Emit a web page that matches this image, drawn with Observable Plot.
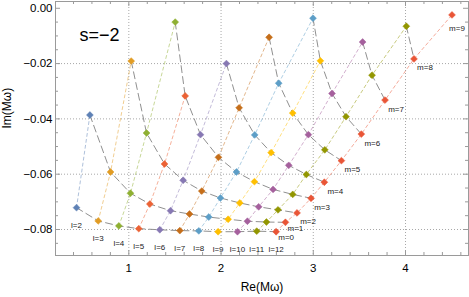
<!DOCTYPE html>
<html><head><meta charset="utf-8">
<script src="https://cdn.jsdelivr.net/npm/d3@7"></script>
<script src="https://cdn.jsdelivr.net/npm/@observablehq/plot@0.6"></script>
<style>body{margin:0;background:#fff} svg{display:block}</style>
</head><body><div id="chart"></div>
<script>
// l values (one colored series each); index m = 0,1,2,...
const ls = [2, 3, 4, 5, 6, 7, 8, 9, 10, 11, 12];
const reByL = [
  [0.433, 0.578],
  [0.668, 0.802, 1.026],
  [0.892, 1.018, 1.192, 1.503],
  [1.108, 1.228, 1.387, 1.611],
  [1.336, 1.452, 1.589, 1.777, 2.058],
  [1.553, 1.658, 1.791, 1.972, 2.196, 2.521],
  [1.759, 1.867, 1.993, 2.167, 2.365, 2.625, 2.997],
  [1.968, 2.077, 2.203, 2.362, 2.543, 2.777, 3.077],
  [2.178, 2.286, 2.408, 2.564, 2.734, 2.947, 3.203, 3.535],
  [2.387, 2.492, 2.618, 2.777, 2.925, 3.125, 3.355, 3.637, 4.009],
  [2.597, 2.698, 2.824, 2.976, 3.120, 3.305, 3.521, 3.778, 4.092, 4.504]
];
const imByL = [
  [-0.0721, -0.0386],
  [-0.0769, -0.0592, -0.0191],
  [-0.0787, -0.0669, -0.0451, -0.0050],
  [-0.0797, -0.0708, -0.0563, -0.0317],
  [-0.0801, -0.0732, -0.0622, -0.0457, -0.0200],
  [-0.0804, -0.0744, -0.0661, -0.0539, -0.0360, -0.0105],
  [-0.0805, -0.0755, -0.0686, -0.0592, -0.0458, -0.0271, -0.0036],
  [-0.0808, -0.0763, -0.0704, -0.0627, -0.0522, -0.0379, -0.0190],
  [-0.0808, -0.0770, -0.0718, -0.0655, -0.0568, -0.0457, -0.0308, -0.0122],
  [-0.0806, -0.0773, -0.0729, -0.0673, -0.0601, -0.0512, -0.0392, -0.0242, -0.0065],
  [-0.0808, -0.0774, -0.0740, -0.0687, -0.0629, -0.0551, -0.0455, -0.0332, -0.0183, -0.0024]
];
const palette = ["#5E81B5", "#E19C24", "#8FB032", "#EB6235", "#8778B3", "#C56E1A",
                 "#5D9EC7", "#FFBF00", "#A5609D", "#929600", "#E95536"];
const xMajor = [1, 2, 3, 4];
const xMinor = [0.4, 0.6, 0.8, 1.2, 1.4, 1.6, 1.8, 2.2, 2.4, 2.6, 2.8, 3.2, 3.4, 3.6, 3.8, 4.2, 4.4, 4.6];
const yMajor = [0, -0.02, -0.04, -0.06, -0.08];
const yGrid = [-0.02, -0.04, -0.06, -0.08];
const yMinor = [-0.005, -0.01, -0.015, -0.025, -0.03, -0.035, -0.045, -0.05, -0.055, -0.065, -0.07, -0.075, -0.085];
const title = "s=\u22122";
const xLabel = "Re(M\u03c9)";
const yLabel = "Im(M\u03c9)";

const rows = [];
ls.forEach((l, i) => reByL[i].forEach((re, m) => rows.push({l, m, re, im: imByL[i][m]})));
const lastL = ls[ls.length - 1];
const lastRow = rows.filter(d => d.l === lastL);
const topM = lastRow.length - 1;

const W = 469, Hh = 297, mL = 55, mR = 1, mT = 1, mB = 42;
const FW = W - mL - mR, FH = Hh - mT - mB;
const frameC = "#9a9a9a";
const font = "'Liberation Sans', Arial, Helvetica, sans-serif";
const lblStyle = {x: "re", y: "im", text: d => "m=" + d.m, fontSize: 8, fill: "#222"};

const chart = Plot.plot({
  width: W, height: Hh,
  marginLeft: mL, marginRight: mR, marginTop: mT, marginBottom: mB,
  style: {fontFamily: font, background: "#fff", color: "#000"},
  x: {domain: [0.205, 4.683]},
  y: {domain: [-0.0894, 0.00245]},
  color: {type: "ordinal", domain: ls, range: palette},
  marks: [
    Plot.ruleX(xMajor, {stroke: "#a8a8a8", strokeDasharray: "1,2", strokeWidth: 1}),
    Plot.ruleY(yGrid, {stroke: "#a8a8a8", strokeDasharray: "1,2", strokeWidth: 1}),
    Plot.line(rows, {x: "re", y: "im", z: "l", stroke: "l", strokeDasharray: "3,3", strokeOpacity: 0.5, strokeWidth: 1}),
    Plot.line(rows, {x: "re", y: "im", z: "m", stroke: "#909090", strokeDasharray: "7,4", strokeWidth: 1}),
    Plot.dot(rows, {x: "re", y: "im", fill: "l", symbol: "diamond2", r: 3.1, stroke: "l", strokeWidth: 0.5}),
    Plot.text(rows.filter(d => d.m === 0), {x: "re", y: "im", text: d => "l=" + d.l, dy: 18, fontSize: 8, fill: "#222"}),
    Plot.text(lastRow.filter(d => d.m <= 1), {...lblStyle, dx: 10, dy: 6}),
    Plot.text(lastRow.filter(d => d.m > 1 && d.m < topM), {...lblStyle, dx: 11, dy: 9}),
    Plot.text(lastRow.filter(d => d.m === topM), {...lblStyle, dx: 5, dy: 14}),
    // frame ticks (inward) on all sides
    Plot.ruleX(xMajor, {insetTop: FH - 5, stroke: frameC}),
    Plot.ruleX(xMajor, {insetBottom: FH - 5, stroke: frameC}),
    Plot.ruleX(xMinor, {insetTop: FH - 3, stroke: frameC}),
    Plot.ruleX(xMinor, {insetBottom: FH - 3, stroke: frameC}),
    Plot.ruleY(yMajor, {insetRight: FW - 5, stroke: frameC}),
    Plot.ruleY(yMajor, {insetLeft: FW - 5, stroke: frameC}),
    Plot.ruleY(yMinor, {insetRight: FW - 3, stroke: frameC}),
    Plot.ruleY(yMinor, {insetLeft: FW - 3, stroke: frameC}),
    Plot.frame({stroke: frameC}),
    Plot.axisX(xMajor, {tickSize: 0, tickPadding: 8, fontSize: 11.5, label: null, tickFormat: d => String(d)}),
    Plot.axisY(yMajor, {tickSize: 0, tickPadding: 3, fontSize: 11.5, label: null, tickFormat: d3.format(".2f")}),
    Plot.text([xLabel], {frameAnchor: "bottom", dy: 35, fontSize: 12, fill: "#000"}),
    Plot.text([yLabel], {frameAnchor: "left", dx: 7 - mL, rotate: -90, fontSize: 12, fill: "#000"}),
    Plot.text([title], {frameAnchor: "top-left", dx: 24, dy: 27, textAnchor: "start", lineAnchor: "top", fontSize: 18, fill: "#000"})
  ]
});
document.getElementById("chart").appendChild(chart);
</script>
</body></html>
